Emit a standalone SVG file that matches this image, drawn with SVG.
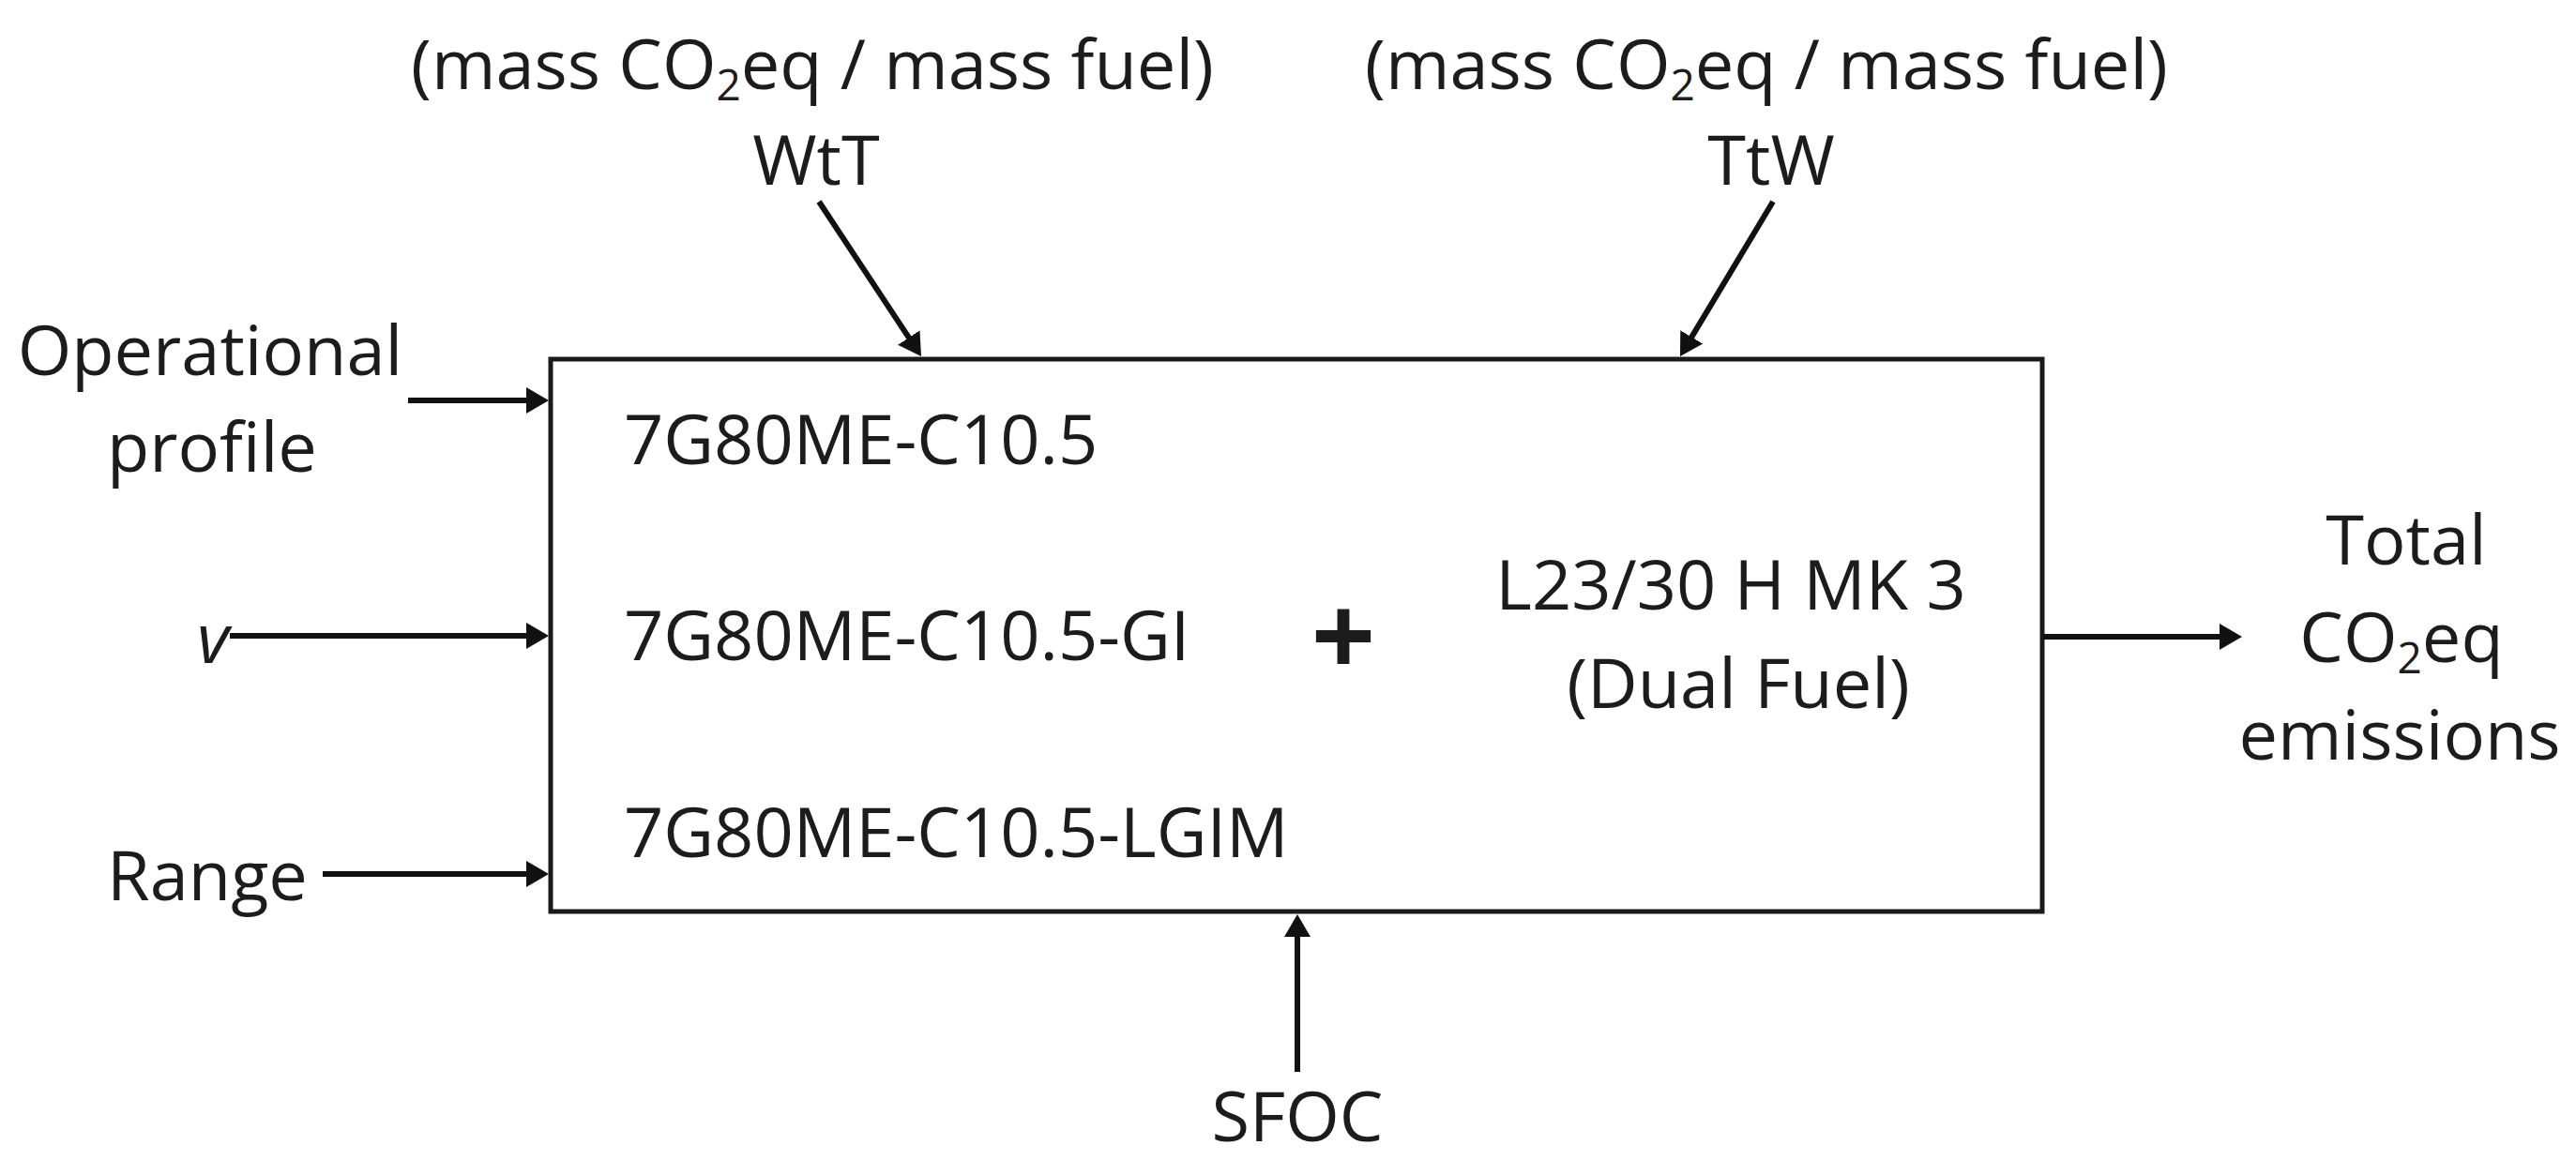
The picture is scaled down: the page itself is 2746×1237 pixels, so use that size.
<svg xmlns="http://www.w3.org/2000/svg" width="2746" height="1237" viewBox="0 0 2746 1237">
  <style>
    text { font-family: "Open Sans", "Noto Sans", "DejaVu Sans", sans-serif; font-size: 74px; fill: #1c1c1c; }
    .mid { text-anchor: middle; }
    .sub { font-size: 46px; }
    .conn { stroke: #111; stroke-width: 6; fill: none; marker-end: url(#arrow); }
    .box { fill: #fff; stroke: #1a1a1a; stroke-width: 5; }
  </style>
  <defs>
    <marker id="arrow" markerUnits="userSpaceOnUse" markerWidth="26" markerHeight="30" viewBox="0 0 26 30" refX="14" refY="15" orient="auto">
      <path d="M0,1 L24,15 L0,29 z" fill="#111"/>
    </marker>
  </defs>
  <rect width="2746" height="1237" fill="#fff"/>

  <g id="main-box">
    <rect class="box" x="587" y="383" width="1590" height="589"/>
    <text x="665" y="495">7G80ME-C10.5</text>
    <text x="665" y="704">7G80ME-C10.5-GI</text>
    <text x="665" y="914">7G80ME-C10.5-LGIM</text>
    <text class="mid" x="1432" y="721" style="font-size:120px;font-weight:bold">+</text>
    <text class="mid" x="1845" y="650">L23/30 H MK 3</text>
    <text class="mid" x="1853" y="755">(Dual Fuel)</text>
  </g>

  <g id="label-wtt">
    <text class="mid" x="866" y="95">(mass CO<tspan class="sub" dy="12">2</tspan><tspan dy="-12">eq / mass fuel)</tspan></text>
    <text class="mid" x="870" y="197">WtT</text>
  </g>

  <g id="label-ttw">
    <text class="mid" x="1883" y="95">(mass CO<tspan class="sub" dy="12">2</tspan><tspan dy="-12">eq / mass fuel)</tspan></text>
    <text class="mid" x="1888" y="197">TtW</text>
  </g>

  <g id="label-operational">
    <text class="mid" x="224" y="400">Operational</text>
    <text class="mid" x="226" y="503">profile</text>
  </g>

  <g id="label-v">
    <text x="210" y="707" style="font-style:italic">v</text>
  </g>

  <g id="label-range">
    <text x="114" y="960">Range</text>
  </g>

  <g id="label-sfoc">
    <text class="mid" x="1383" y="1217">SFOC</text>
  </g>

  <g id="label-total">
    <text class="mid" x="2565" y="602">Total</text>
    <text class="mid" x="2560" y="706">CO<tspan class="sub" dy="12">2</tspan><tspan dy="-12">eq</tspan></text>
    <text class="mid" x="2558" y="810">emissions</text>
  </g>

  <g id="connectors">
    <line class="conn" x1="873" y1="215" x2="976.5" y2="371.7"/>
    <line class="conn" x1="1890" y1="215" x2="1796.1" y2="371.4"/>
    <line class="conn" x1="435" y1="427" x2="575" y2="427"/>
    <line class="conn" x1="245" y1="678" x2="575" y2="678"/>
    <line class="conn" x1="344" y1="932" x2="575" y2="932"/>
    <line class="conn" x1="2177" y1="679" x2="2380" y2="679"/>
    <line class="conn" x1="1383" y1="1143" x2="1383" y2="985"/>
  </g>
</svg>
